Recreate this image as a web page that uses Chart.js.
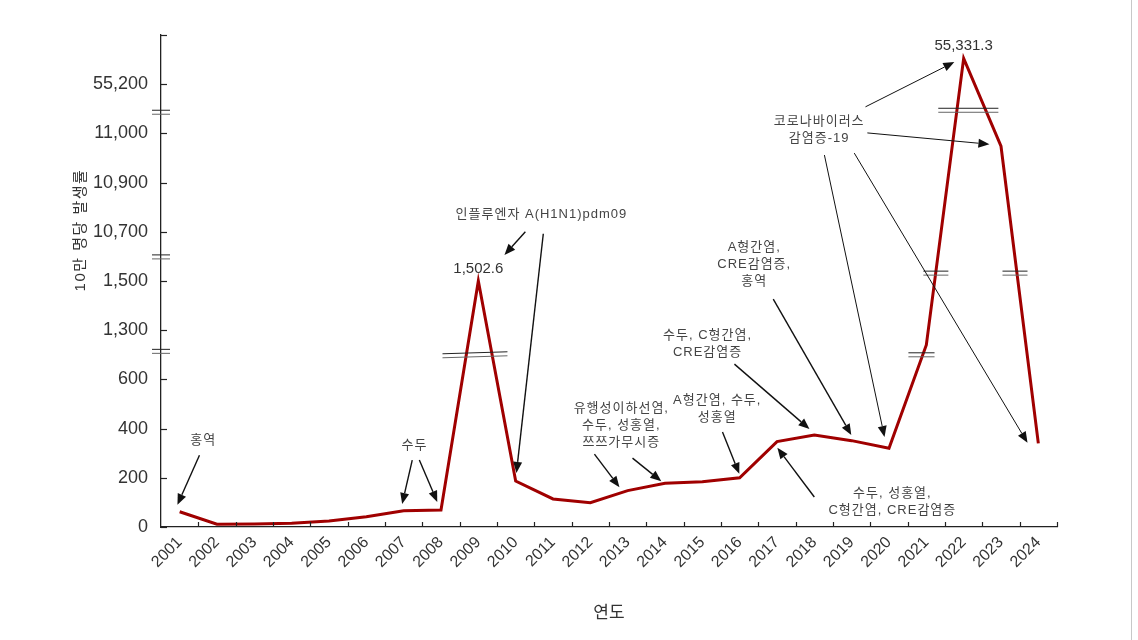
<!DOCTYPE html>
<html>
<head>
<meta charset="utf-8">
<script src="https://cdn.jsdelivr.net/npm/chart.js@4.4.1/dist/chart.umd.min.js"></script>
<style>
    html, body { margin: 0; padding: 0; background: #fff; }
    #wrap { position: relative; width: 1138px; height: 640px; }
</style>
</head>
<body>
<div id="wrap"><canvas id="chart" width="1138" height="640"></canvas></div>
<script>
/* global Chart */

// 연도별 10만 명당 발생률
const years = ['2001', '2002', '2003', '2004', '2005', '2006', '2007', '2008', '2009', '2010', '2011', '2012',
    '2013', '2014', '2015', '2016', '2017', '2018', '2019', '2020', '2021', '2022', '2023', '2024'];
const rates = [62, 11, 12, 15, 24, 42, 66, 69, 1502.6, 187, 114, 99,
    148, 178, 184, 200, 347, 374, 351, 320, 1090, 55331.3, 10974, 340];

// broken y axis: evenly spaced ticks, each segment linear between them
const yTickValues = [0, 200, 400, 600, 1300, 1500, 10700, 10900, 11000, 55200];
const yTickLabels = ['0', '200', '400', '600', '1,300', '1,500', '10,700', '10,900', '11,000', '55,200'];
const yTop = 55450;

// value labels on the peaks
const peakLabels = [
    { year: '2009', text: '1,502.6' },
    { year: '2022', text: '55,331.3' }
];

// notes: text position and arrows in (category, axis-step) units
const notes = [
    { lines: ['홍역'], at: [0.63, 1.75], arrows: [[[0.53, 1.46], [-0.06, 0.45]]] },
    { lines: ['수두'], at: [6.29, 1.65], arrows: [[[6.23, 1.36], [5.96, 0.47]], [[6.42, 1.36], [6.90, 0.51]]] },
    { lines: ['인플루엔자 A(H1N1)pdm09'], at: [9.69, 6.36], arrows: [[[9.26, 6.0], [8.70, 5.53]], [[9.74, 5.96], [9.02, 1.10]]] },
    { lines: ['유행성이하선염,', '수두, 성홍열,', '쯔쯔가무시증'], at: [11.83, 2.40], arrows: [[[11.11, 1.48], [11.78, 0.81]], [[12.13, 1.40], [12.90, 0.93]]] },
    { lines: ['A형간염, 수두,', '성홍열'], at: [14.40, 2.58], arrows: [[[14.54, 1.93], [14.99, 1.08]]] },
    { lines: ['수두, C형간염,', 'CRE감염증'], at: [14.14, 3.90], arrows: [[[14.86, 3.31], [16.87, 1.99]]] },
    { lines: ['A형간염,', 'CRE감염증,', '홍역'], at: [15.39, 5.69], arrows: [[[15.90, 4.63], [17.99, 1.87]]] },
    { lines: ['코로나바이러스', '감염증-19'], at: [17.13, 8.25], thin: true, arrows: [
        [[18.37, 8.54], [20.75, 9.45]], [[18.42, 8.01], [21.69, 7.78]],
        [[17.27, 7.56], [18.88, 1.83]], [[18.07, 7.60], [22.71, 1.71]]] },
    { lines: ['수두, 성홍열,', 'C형간염, CRE감염증'], at: [19.09, 0.69], arrows: [[[17.00, 0.61], [16.01, 1.61]]] }
];

// break marks on the axis and on the line
const axisBreaks = [3.57, 5.49, 8.43];
const lineBreaks = [
    { from: 7.04, to: 8.78, at: 3.48, tilt: -2 },
    { from: 19.52, to: 20.22, at: 3.50, tilt: 0 },
    { from: 19.92, to: 20.59, at: 5.16, tilt: 0 },
    { from: 22.04, to: 22.71, at: 5.16, tilt: 0 },
    { from: 20.32, to: 21.93, at: 8.47, tilt: 0 }
];

const FONT = '"Liberation Sans", "Noto Sans CJK KR", sans-serif';
const AXIS_COLOR = '#222';

function toAxis(v) {
    const stops = yTickValues.concat([yTop]);
    for (let i = 0; i < stops.length - 1; i++) {
        if (v <= stops[i + 1]) return i + (v - stops[i]) / (stops[i + 1] - stops[i]);
    }
    return stops.length - 1;
}

function drawArrow(ctx, x1, y1, x2, y2, thin) {
    const ang = Math.atan2(y2 - y1, x2 - x1);
    const len = 11, half = 4.5;
    const bx = x2 - Math.cos(ang) * len;
    const by = y2 - Math.sin(ang) * len;
    ctx.strokeStyle = '#111';
    ctx.fillStyle = '#111';
    ctx.lineWidth = thin ? 1 : 1.4;
    ctx.beginPath();
    ctx.moveTo(x1, y1);
    ctx.lineTo(bx, by);
    ctx.stroke();
    ctx.beginPath();
    ctx.moveTo(x2, y2);
    ctx.lineTo(bx + Math.sin(ang) * half, by - Math.cos(ang) * half);
    ctx.lineTo(bx - Math.sin(ang) * half, by + Math.cos(ang) * half);
    ctx.closePath();
    ctx.fill();
}

function drawBreak(ctx, xa, xb, y, tilt) {
    ctx.lineWidth = 1;
    ctx.strokeStyle = '#222';
    ctx.beginPath();
    ctx.moveTo(xa, y - 2);
    ctx.lineTo(xb, y - 2 + tilt);
    ctx.stroke();
    ctx.strokeStyle = '#666';
    ctx.beginPath();
    ctx.moveTo(xa, y + 2);
    ctx.lineTo(xb, y + 2 + tilt);
    ctx.stroke();
}

const extras = {
    id: 'extras',
    afterDraw(chart) {
        const ctx = chart.ctx;
        const xs = chart.scales.x;
        const ys = chart.scales.y;
        const ca = chart.chartArea;
        const px = (c) => xs.getPixelForValue(c);
        const py = (v) => ys.getPixelForValue(v);
        ctx.save();

        // inward tick marks
        ctx.strokeStyle = AXIS_COLOR;
        ctx.lineWidth = 1.2;
        for (let i = 0; i <= 10; i++) {
            const y = Math.round(py(i)) + 0.5;
            ctx.beginPath();
            ctx.moveTo(ca.left, y);
            ctx.lineTo(ca.left + 6, y);
            ctx.stroke();
        }
        for (let i = 1; i <= years.length; i++) {
            const x = Math.round(px(i - 0.5)) + 0.5;
            ctx.beginPath();
            ctx.moveTo(x, ca.bottom);
            ctx.lineTo(x, ca.bottom - 5);
            ctx.stroke();
        }

        // breaks
        axisBreaks.forEach((b) => drawBreak(ctx, ca.left - 9, ca.left + 9, py(b), 0));
        lineBreaks.forEach((b) => drawBreak(ctx, px(b.from), px(b.to), py(b.at), b.tilt));

        // notes
        ctx.font = '13px ' + FONT;
        ctx.letterSpacing = '1px';
        ctx.fillStyle = '#444';
        ctx.textAlign = 'center';
        ctx.textBaseline = 'middle';
        notes.forEach((n) => {
            const x = px(n.at[0]);
            const y = py(n.at[1]);
            n.lines.forEach((t, k) => {
                ctx.fillStyle = '#444';
                ctx.fillText(t, x, y + k * 17);
            });
            n.arrows.forEach((a) => drawArrow(ctx, px(a[0][0]), py(a[0][1]), px(a[1][0]), py(a[1][1]), n.thin));
        });
        ctx.letterSpacing = '0px';

        // peak values
        ctx.font = '15px ' + FONT;
        ctx.fillStyle = '#333';
        ctx.textAlign = 'center';
        ctx.textBaseline = 'bottom';
        peakLabels.forEach((p) => {
            const i = years.indexOf(p.year);
            ctx.fillText(p.text, px(i), py(toAxis(rates[i])) - 5);
        });

        // axis titles
        ctx.fillStyle = '#333';
        ctx.font = '17px ' + FONT;
        ctx.textBaseline = 'middle';
        ctx.fillText('연도', (ca.left + ca.right) / 2 + 0, 613);
        ctx.save();
        ctx.translate(81, 230);
        ctx.rotate(-Math.PI / 2);
        ctx.font = '15px ' + FONT;
        ctx.letterSpacing = '1.5px';
        ctx.fillText('10만 명당 발생률', 0, 0);
        ctx.restore();

        // frame edge on the right
        ctx.strokeStyle = '#c8c8c8';
        ctx.lineWidth = 1;
        ctx.beginPath();
        ctx.moveTo(1131.5, 0);
        ctx.lineTo(1131.5, 640);
        ctx.stroke();

        ctx.restore();
    }
};

new Chart(document.getElementById('chart').getContext('2d'), {
    type: 'line',
    data: {
        labels: years,
        datasets: [{
            data: rates.map(toAxis),
            borderColor: '#a00000',
            borderWidth: 3,
            borderJoinStyle: 'miter',
            pointRadius: 0,
            tension: 0,
            fill: false
        }]
    },
    options: {
        responsive: false,
        animation: false,
        events: [],
        layout: { padding: { top: 35, right: 81, left: 0, bottom: 0 } },
        plugins: { legend: { display: false }, tooltip: { enabled: false } },
        scales: {
            x: {
                type: 'category',
                offset: true,
                grid: { display: false, drawTicks: false },
                border: { display: true, color: AXIS_COLOR, width: 1.3 },
                ticks: {
                    autoSkip: false,
                    maxRotation: 45,
                    minRotation: 45,
                    padding: 6,
                    color: '#333',
                    font: { family: FONT, size: 16 }
                },
                afterFit: (s) => { s.height = 113; }
            },
            y: {
                min: 0,
                max: 10,
                grid: { display: false, drawTicks: false },
                border: { display: true, color: AXIS_COLOR, width: 1.3 },
                ticks: {
                    stepSize: 1,
                    padding: 13,
                    color: '#333',
                    font: { family: FONT, size: 18 },
                    callback: (v) => yTickLabels[v] ?? ''
                },
                afterFit: (s) => { s.width = 161; }
            }
        }
    },
    plugins: [extras]
});
</script>
</body>
</html>
